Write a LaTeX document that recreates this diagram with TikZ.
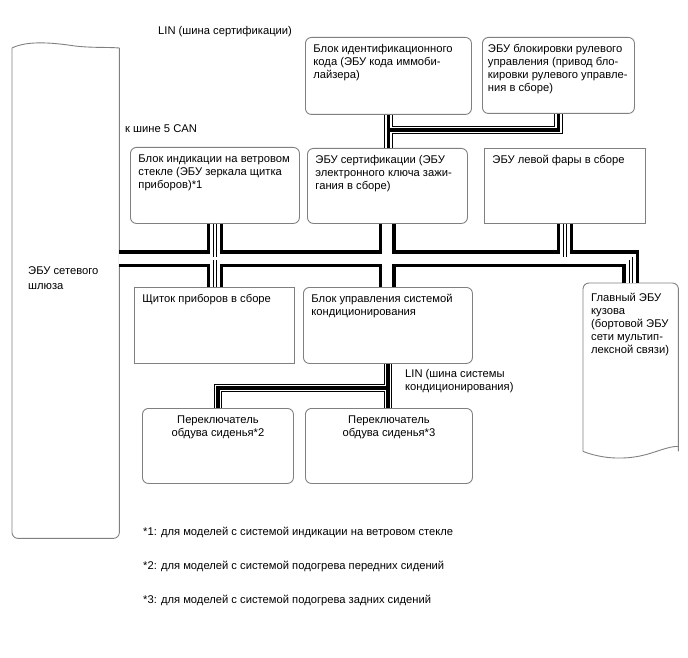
\documentclass[tikz,border=0pt]{standalone}
\usepackage{fontspec}
\setmainfont{Liberation Sans}
\usetikzlibrary{calc}

\newcommand{\ecutext}[3]{\parbox[t][#2][t]{#1}{\raggedright\strut#3}}

\begin{document}
\begin{tikzpicture}[x=1pt,y=-1pt,
  font=\fontsize{11.2}{13}\selectfont,
  boxline/.style={draw=black!50, line width=0.9pt},
  ecu/.style={boxline, rounded corners=6pt, anchor=north west, inner xsep=8pt, inner ysep=5.5pt},
  ecusq/.style={ecu, sharp corners},
  note/.style={inner sep=0pt, anchor=base west},
  canedge/.style={line width=16.5pt},
  cangap/.style={line width=10pt, white},
  canwire/.style={line width=0.6pt, double=white, double distance=2.4pt},
  linedge/.style={line width=8.5pt},
  lingap/.style={line width=6.5pt, white},
  linwire/.style={line width=3.5pt}]
  \useasboundingbox (0,0) rectangle (688,658);

  % Gateway
  \node[anchor=north west, minimum width=107pt, minimum height=490pt, inner sep=0pt] (gw) at (12,48) {};
  \draw[boxline, rounded corners=6pt] (gw.north west) |- (gw.south) -| (gw.north east);
  \draw[boxline] (gw.north west) .. controls (28,40) and (55,43) .. (75,46) .. controls (92,48) and (108,47) .. (gw.north east);
  \node[anchor=north west, align=left, inner sep=0pt, font=\fontsize{11.2}{15}\selectfont] (gwname) at (28,266) {ЭБУ сетевого\\шлюза};

  % Body ECU
  \node[anchor=north west, inner xsep=8pt, inner ysep=9pt] (body) at (583,283) {\ecutext{79pt}{150pt}{Главный ЭБУ\\кузова\\(бортовой ЭБУ\\сети мультип-\\лексной связи)}};
  \draw[boxline, rounded corners=6pt] (body.south west) |- (body.north) -| (body.south east);
  \draw[boxline] (body.south west) .. controls (600,458) and (620,460) .. (640,456) .. controls (655,453) and (668,446) .. ([yshift=5pt]body.south east);

  % LIN units
  \node[ecu] (immo) at (305,37) {\ecutext{150pt}{66pt}{Блок идентификационного\\кода (ЭБУ кода иммоби-\\лайзера)}};
  \node[ecu, inner xsep=5.5pt] (lock) at (482,37) {\ecutext{141pt}{65pt}{ЭБУ блокировки рулевого\\управления (привод бло-\\кировки рулевого управле-\\ния в сборе)}};

  % CAN units
  \node[ecu] (hud) at (130,147) {\ecutext{153pt}{65pt}{Блок индикации на ветровом\\стекле (ЭБУ зеркала щитка\\приборов)*1}};
  \node[ecu] (cert) at (307,148) {\ecutext{144pt}{64pt}{ЭБУ сертификации (ЭБУ\\электронного ключа зажи-\\гания в сборе)}};
  \node[ecusq] (lamp) at (484,148) {\ecutext{145pt}{64pt}{ЭБУ левой фары в сборе}};
  \node[ecusq] (meter) at (134,287) {\ecutext{144pt}{65pt}{Щиток приборов в сборе}};
  \node[ecu] (ac) at (303,287) {\ecutext{153pt}{65pt}{Блок управления системой\\кондиционирования}};

  % Seat switches
  \node[ecu] (seat2) at (142,408) {\ecutext{135pt}{64pt}{\centering Переключатель\\обдува сиденья*2}};
  \node[ecu] (seat3) at (305,408) {\ecutext{151pt}{64pt}{\centering Переключатель\\обдува сиденья*3}};

  % Bus labels
  \node[note] (lincert) at (158,35) {LIN (шина сертификации)};
  \node[note] (can5) at (125,132) {к шине 5 CAN};
  \node[anchor=north west, align=left, inner sep=0pt] (linac) at (405,369) {LIN (шина системы\\кондиционирования)};

  % CAN bus
  \coordinate (canbus) at (0,258.5);
  \foreach \layer in {canedge,cangap,canwire}
    \draw[\layer] (gw.east |- canbus) -| (body.north)
      (hud.south) -- (hud.south |- meter.north)
      (cert.south) -- (cert.south |- ac.north)
      (lamp.south) -- (lamp.south |- canbus);

  % LIN buses
  \foreach \layer in {linedge,lingap,linwire}
    \draw[\layer] (immo.south) -- (immo.south |- cert.north)
      (lock.south) |- ($(immo.south)!0.45!(immo.south |- cert.north)$)
      (ac.south) -- (ac.south |- seat3.north)
      (seat2.north) |- ($(ac.south)!0.55!(ac.south |- seat3.north)$);

  % Notes
  \node[note] (fn1) at (143,535) {*1: для моделей с системой индикации на ветровом стекле};
  \node[note] (fn2) at (143,569) {*2: для моделей с системой подогрева передних сидений};
  \node[note] (fn3) at (143,603) {*3: для моделей с системой подогрева задних сидений};
\end{tikzpicture}
\end{document}
